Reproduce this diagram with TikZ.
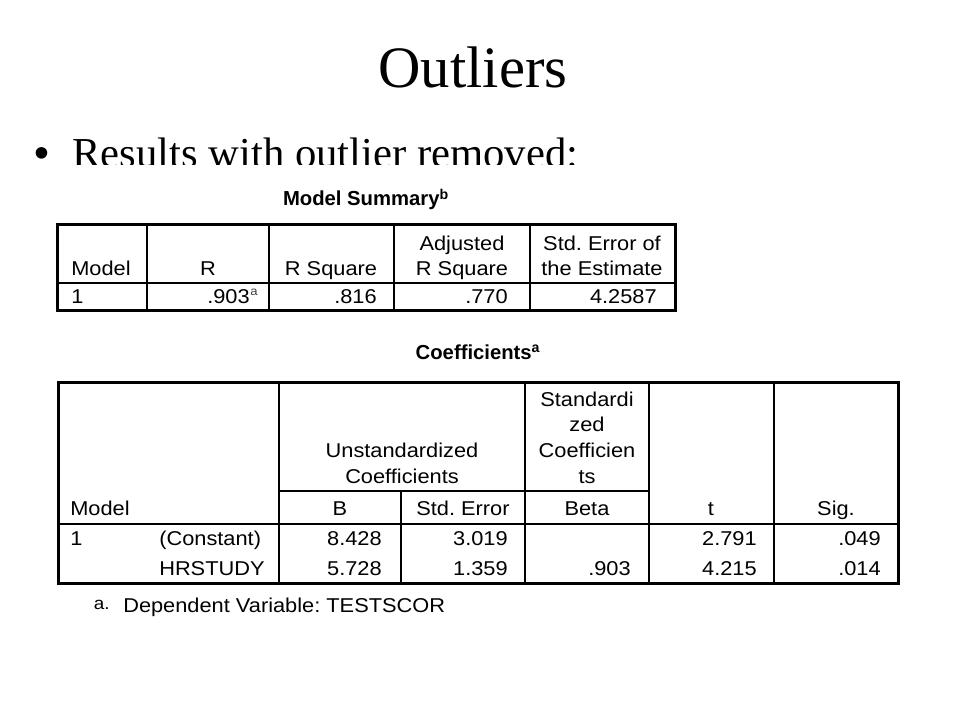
\documentclass[tikz,border=0pt]{standalone}
\usepackage{fontspec}
\setmainfont{Liberation Serif}
\setsansfont[FakeStretch=1.09]{Liberation Sans}
\newfontfamily\bulletfont{Liberation Sans}
\newfontfamily\ttlfont{Liberation Sans}
\frenchspacing
\begin{document}
\begin{tikzpicture}[x=0.75pt,y=-0.75pt]
\useasboundingbox (0,0) rectangle (960,720);
\tikzset{
  cell/.style={font=\sffamily\fontsize{15}{18}\selectfont, inner sep=0pt, anchor=base},
  numcell/.style={cell, anchor=base east},
  lcell/.style={cell, anchor=base west},
  tabtitle/.style={font=\ttlfont\bfseries\fontsize{15.2}{18}\selectfont, inner sep=0pt, anchor=base},
  supa/.style={font=\sffamily\fontsize{9}{10}\selectfont, inner sep=0pt, anchor=base west, text=black!75},
  outerline/.style={line width=2.25pt},
  innerline/.style={line width=1.5pt},
  divline/.style={line width=2pt},
}
% title and bullet
\node[font=\fontsize{44}{50}\selectfont, anchor=base, inner sep=0pt] (title) at (473,88) {Outliers};
\node[font=\bulletfont\fontsize{32}{38}\selectfont, anchor=base west, inner sep=0pt] (bullet) at (34,167.5) {•};
\node[font=\fontsize{32}{38}\selectfont, anchor=base west, inner sep=0pt] (btext) at (72,167.5) {Results with outlier removed:};
% pasted table image background (clips the bullet text)
\fill[white] (50,165.5) rectangle (915,625);

% ---------- Model Summary ----------
\node[tabtitle] (mstitle) at (366,206) {Model Summary\textsuperscript{b}};
\draw[outerline] (57,225) rectangle (675,310);
\draw[divline] (57,283) -- (675,283);
\foreach \xx in {147,269,394,530} \draw[innerline] (\xx,225) -- (\xx,310);

\node[lcell] (msModel) at (71,276) {Model};
\node[cell] (msR) at (208,276) {R};
\node[cell] (msRSq) at (331,276) {R Square};
\node[cell] (msAdjA) at (462,251) {Adjusted};
\node[cell] (msAdjB) at (462,276) {R Square};
\node[cell] (msSEA) at (602,251) {Std. Error of};
\node[cell] (msSEB) at (602,276) {the Estimate};

\node[lcell] (msOne) at (71,303) {1};
\node[numcell] (msRv) at (250,303) {.903};
\node[supa] (msRsup) at ([xshift=0pt,yshift=5.5pt]msRv.base east) {a};
\node[numcell] (msRSqv) at (377,303) {.816};
\node[numcell] (msAdjv) at (508,303) {.770};
\node[numcell] (msSEv) at (657,303) {4.2587};

% ---------- Coefficients ----------
\node[tabtitle] (cotitle) at (478,359) {Coefficients\textsuperscript{a}};
\draw[outerline] (58,382) rectangle (898,583);
\draw[divline] (58,524) -- (898,524);
\draw[innerline] (279,491) -- (649,491);
\draw[divline] (279,382) -- (279,583);
\draw[innerline] (401,491) -- (401,583);
\foreach \xx in {525,649,774} \draw[innerline] (\xx,382) -- (\xx,583);

\node[cell] (coUnA) at (402,457) {Unstandardized};
\node[cell] (coUnB) at (402,483) {Coefficients};
\node[cell] (coStA) at (587,406) {Standardi};
\node[cell] (coStB) at (587,431) {zed};
\node[cell] (coStC) at (587,457) {Coefficien};
\node[cell] (coStD) at (587,483) {ts};

\node[lcell] (coModel) at (70,515) {Model};
\node[cell] (coB) at (340,515) {B};
\node[cell] (coSE) at (463,515) {Std. Error};
\node[cell] (coBeta) at (587,515) {Beta};
\node[cell] (coT) at (711,515) {t};
\node[cell] (coSig) at (836,515) {Sig.};

\node[lcell] (coOne) at (70,545) {1};
\node[lcell] (coConst) at (159,545) {(Constant)};
\node[numcell] (coB1) at (382,545) {8.428};
\node[numcell] (coSE1) at (508,545) {3.019};
\node[numcell] (coT1) at (757,545) {2.791};
\node[numcell] (coSig1) at (881,545) {.049};

\node[lcell] (coHr) at (159,575) {HRSTUDY};
\node[numcell] (coB2) at (382,575) {5.728};
\node[numcell] (coSE2) at (508,575) {1.359};
\node[numcell] (coBeta2) at (631,575) {.903};
\node[numcell] (coT2) at (757,575) {4.215};
\node[numcell] (coSig2) at (881,575) {.014};

% footnote
\node[font=\sffamily\fontsize{13}{15}\selectfont, inner sep=0pt, anchor=base east] (fnA) at (110,609) {a.};
\node[lcell] (fnText) at (123,612) {Dependent Variable: TESTSCOR};
\end{tikzpicture}
\end{document}
